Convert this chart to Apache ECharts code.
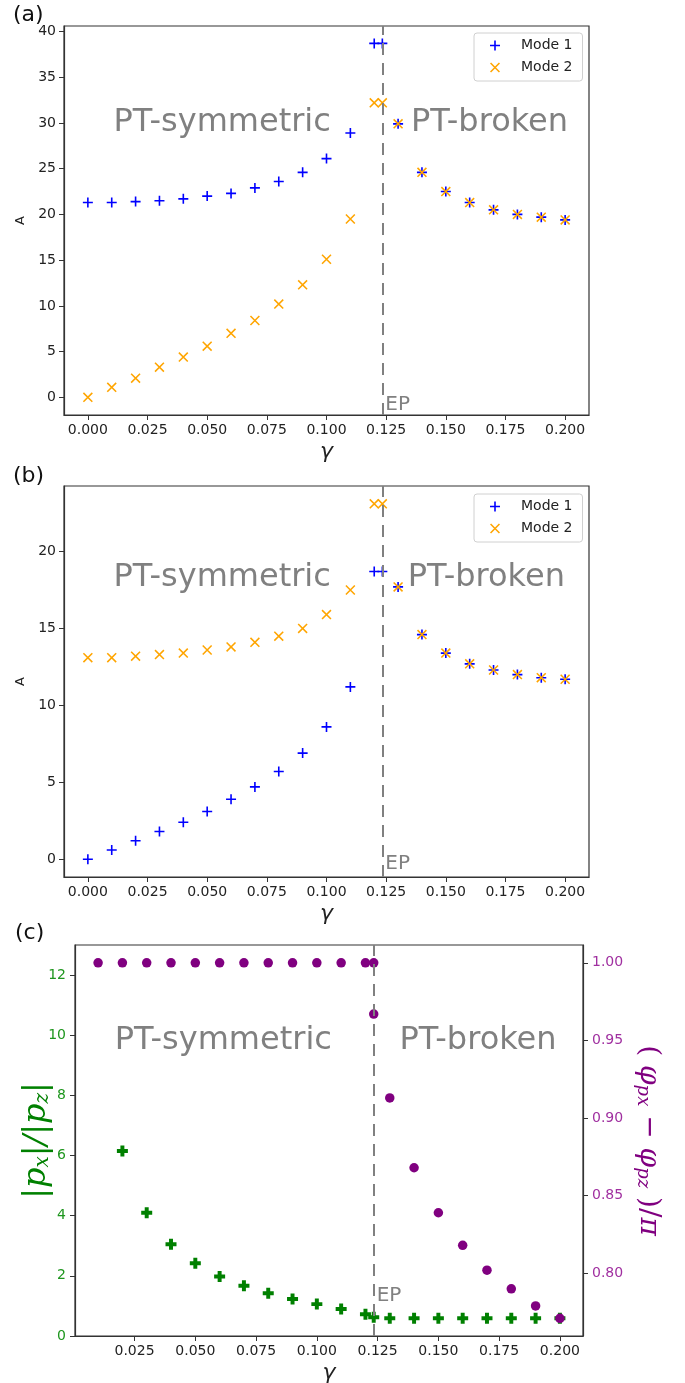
<!DOCTYPE html>
<html>
<head>
<meta charset="utf-8">
<title>PT symmetry</title>
<script src="https://cdn.jsdelivr.net/npm/echarts@6/dist/echarts.min.js"></script>
<style>
  html, body { margin: 0; padding: 0; background: #fff; }
  #chart { width: 685px; height: 1383px; }
</style>
</head>
<body>
<div id="chart"></div>
<script>
// exceptional point
const EP = 0.1234;

// panels (a) and (b): gamma samples
const gammaAB = [0, 0.01, 0.02, 0.03, 0.04, 0.05, 0.06, 0.07, 0.08, 0.09, 0.1, 0.11, 0.12, EP,
  0.13, 0.14, 0.15, 0.16, 0.17, 0.18, 0.19, 0.2];

const aMode1 = [21.3, 21.3, 21.4, 21.5, 21.7, 22.0, 22.3, 22.9, 23.6, 24.6, 26.1, 28.9, 38.7, 38.7,
  29.9, 24.6, 22.5, 21.3, 20.5, 20.0, 19.7, 19.4];
const aMode2 = [0, 1.1, 2.1, 3.3, 4.4, 5.6, 7.0, 8.4, 10.2, 12.3, 15.1, 19.5, 32.2, 32.2,
  29.9, 24.6, 22.5, 21.3, 20.5, 20.0, 19.7, 19.4];

const bMode1 = [0, 0.6, 1.2, 1.8, 2.4, 3.1, 3.9, 4.7, 5.7, 6.9, 8.6, 11.2, 18.7, 18.7,
  17.7, 14.6, 13.4, 12.7, 12.3, 12.0, 11.8, 11.7];
const bMode2 = [13.1, 13.1, 13.2, 13.3, 13.4, 13.6, 13.8, 14.1, 14.5, 15.0, 15.9, 17.5, 23.1, 23.1,
  17.7, 14.6, 13.4, 12.7, 12.3, 12.0, 11.8, 11.7];

// panel (c)
const gammaRatio = [0.02, 0.03, 0.04, 0.05, 0.06, 0.07, 0.08, 0.09, 0.1, 0.11, 0.12, EP,
  0.13, 0.14, 0.15, 0.16, 0.17, 0.18, 0.19, 0.2];
const ratioPxPz = [6.15, 4.1, 3.05, 2.42, 1.98, 1.67, 1.42, 1.23, 1.06, 0.9, 0.72, 0.62,
  0.59, 0.59, 0.59, 0.59, 0.59, 0.59, 0.59, 0.59];

const gammaPhase = [0.01, 0.02, 0.03, 0.04, 0.05, 0.06, 0.07, 0.08, 0.09, 0.1, 0.11, 0.12, EP, EP,
  0.13, 0.14, 0.15, 0.16, 0.17, 0.18, 0.19, 0.2];
const phaseDiff = [1, 1, 1, 1, 1, 1, 1, 1, 1, 1, 1, 1, 1, 0.967,
  0.913, 0.868, 0.839, 0.818, 0.802, 0.790, 0.779, 0.771];

// tick labels
const xTicksAB = [0, 0.025, 0.05, 0.075, 0.1, 0.125, 0.15, 0.175, 0.2];
const xTicksC = [0.025, 0.05, 0.075, 0.1, 0.125, 0.15, 0.175, 0.2];
const yTicksA = [0, 5, 10, 15, 20, 25, 30, 35, 40];
const yTicksB = [0, 5, 10, 15, 20];
const yTicksCLeft = [0, 2, 4, 6, 8, 10, 12];
const yTicksCRight = [0.8, 0.85, 0.9, 0.95, 1.0];

const PLUS = 'path://M0,4.2 H10 V5.8 H0 Z M4.2,0 H5.8 V10 H4.2 Z';
const CROSS = 'path://M0,1.1 L1.1,0 L10,8.9 L8.9,10 Z M8.9,0 L10,1.1 L1.1,10 L0,8.9 Z';
const FATPLUS = 'path://M3.2,0 H6.8 V3.2 H10 V6.8 H6.8 V10 H3.2 V6.8 H0 V3.2 H3.2 Z';

const FONT = 'DejaVu Sans';
const GRAY = '#808080';

const zip = (xs, ys) => xs.map((x, i) => [x, ys[i]]);

function xAxis(grid, min, max, ticks) {
  return {
    type: 'value', gridIndex: grid, min: min, max: max,
    splitLine: { show: false },
    axisLine: { show: true, onZero: false, lineStyle: { color: '#333', width: 1.2 } },
    axisTick: { show: true, length: 5, customValues: ticks, lineStyle: { color: '#333' } },
    axisLabel: { customValues: ticks, formatter: v => v.toFixed(3), fontSize: 14,
      color: '#222', margin: 8, fontFamily: FONT },
    name: 'γ', nameLocation: 'middle', nameGap: 26,
    nameTextStyle: { fontSize: 22, fontStyle: 'italic', fontFamily: FONT, color: '#222' }
  };
}

function yAxis(grid, min, max, ticks, extra) {
  return Object.assign({
    type: 'value', gridIndex: grid, min: min, max: max,
    splitLine: { show: false },
    axisLine: { show: true, onZero: false, lineStyle: { color: '#333', width: 1.2 } },
    axisTick: { show: true, length: 5, customValues: ticks, lineStyle: { color: '#333' } },
    axisLabel: { customValues: ticks, fontSize: 14, color: '#222', margin: 8, fontFamily: FONT },
    name: 'A', nameLocation: 'middle', nameGap: 36, nameRotate: 90,
    nameTextStyle: { fontSize: 13, fontFamily: FONT, color: '#222' }
  }, extra || {});
}

function note(coord, text, size, pos) {
  return {
    coord: coord, name: text, symbol: 'circle', symbolSize: 0,
    itemStyle: { color: 'rgba(0,0,0,0)' },
    label: { show: true, formatter: text, position: pos || 'inside', distance: 3,
      fontSize: size, color: GRAY, fontFamily: FONT }
  };
}

const epLine = {
  silent: true, symbol: ['none', 'none'], precision: 4,
  label: { show: false },
  lineStyle: { color: GRAY, type: [12, 8], width: 2 },
  data: [{ xAxis: EP }]
};

function legend(top) {
  return {
    left: 474, top: top, orient: 'vertical', selectedMode: false,
    padding: [4, 10, 5, 16], itemGap: 5, itemWidth: 10, itemHeight: 10,
    borderColor: '#d0d0d0', borderWidth: 1, borderRadius: 3,
    textStyle: { fontSize: 14, color: '#222', fontFamily: FONT, padding: [0, 0, 0, 16], lineHeight: 17 },
    data: [{ name: 'Mode 1', icon: PLUS }, { name: 'Mode 2', icon: CROSS }]
  };
}

const gridBase = { show: true, borderColor: '#333', borderWidth: 1.2, outerBoundsMode: 'none' };

const option = {
  animation: false,
  backgroundColor: '#fff',
  textStyle: { fontFamily: FONT },
  graphic: [
    { type: 'text', left: 13, top: 4, style: { text: '(a)', fontSize: 22, fill: '#111', fontFamily: FONT } },
    { type: 'text', left: 13, top: 465, style: { text: '(b)', fontSize: 22, fill: '#111', fontFamily: FONT } },
    { type: 'text', left: 15, top: 922, style: { text: '(c)', fontSize: 22, fill: '#111', fontFamily: FONT } }
  ],
  legend: [legend(33), legend(494)],
  grid: [
    Object.assign({ left: 64, top: 26, width: 525, height: 389 }, gridBase),
    Object.assign({ left: 64, top: 486, width: 525, height: 391 }, gridBase),
    Object.assign({ left: 75, top: 945, width: 508, height: 391 }, gridBase)
  ],
  xAxis: [
    xAxis(0, -0.01, 0.21, xTicksAB),
    xAxis(1, -0.01, 0.21, xTicksAB),
    xAxis(2, 0.0005, 0.2095, xTicksC)
  ],
  yAxis: [
    yAxis(0, -1.93, 40.6, yTicksA),
    yAxis(1, -1.155, 24.26, yTicksB),
    yAxis(2, 0, 13, yTicksCLeft, {
      axisLabel: { customValues: yTicksCLeft, fontSize: 14, color: '#1e961e', margin: 9, fontFamily: FONT },
      name: '|{t|p}{s|x}|/|{t|p}{s|z}|', nameGap: 22, nameMoveOverlap: false,
      nameTextStyle: { fontSize: 32, fontFamily: 'DejaVu Serif', fontStyle: 'italic', color: '#008000',
        rich: {
          t: { fontSize: 32, fontFamily: 'DejaVu Serif', fontStyle: 'italic', color: '#008000' },
          s: { fontSize: 20, fontFamily: 'DejaVu Serif', fontStyle: 'italic', color: '#008000',
            verticalAlign: 'bottom', lineHeight: 20 }
        } }
    }),
    yAxis(2, 0.7596, 1.0115, yTicksCRight, {
      position: 'right',
      axisLabel: { customValues: yTicksCRight, formatter: v => v.toFixed(2), fontSize: 14,
        color: '#a030a0', margin: 9, fontFamily: FONT },
      name: '( {t|φ}{s|px} − {t|φ}{s|pz} )/{t|π}', nameGap: 50, nameRotate: -90,
      nameTextStyle: { fontSize: 28, fontFamily: 'DejaVu Serif', color: '#800080',
        rich: {
          t: { fontSize: 28, fontFamily: 'DejaVu Serif', fontStyle: 'italic', color: '#800080' },
          s: { fontSize: 18, fontFamily: 'DejaVu Serif', fontStyle: 'italic', color: '#800080',
            verticalAlign: 'bottom', lineHeight: 18 }
        } }
    })
  ],
  series: [
    {
      name: 'Mode 1', type: 'scatter', xAxisIndex: 0, yAxisIndex: 0,
      symbol: PLUS, symbolSize: 10, itemStyle: { color: '#0000ff', opacity: 1 },
      data: zip(gammaAB, aMode1),
      markLine: epLine,
      markPoint: { silent: true, data: [
        note([0.0563, 30.0], 'PT-symmetric', 32),
        note([0.1683, 30.0], 'PT-broken', 32),
        note([EP, -0.8], 'EP', 20, 'right')
      ] }
    },
    {
      name: 'Mode 2', type: 'scatter', xAxisIndex: 0, yAxisIndex: 0,
      symbol: CROSS, symbolSize: 10, itemStyle: { color: '#ffa500', opacity: 1 },
      data: zip(gammaAB, aMode2)
    },
    {
      name: 'Mode 1', type: 'scatter', xAxisIndex: 1, yAxisIndex: 1,
      symbol: PLUS, symbolSize: 10, itemStyle: { color: '#0000ff', opacity: 1 },
      data: zip(gammaAB, bMode1),
      markLine: epLine,
      markPoint: { silent: true, data: [
        note([0.0563, 18.3], 'PT-symmetric', 32),
        note([0.167, 18.3], 'PT-broken', 32),
        note([EP, -0.3], 'EP', 20, 'right')
      ] }
    },
    {
      name: 'Mode 2', type: 'scatter', xAxisIndex: 1, yAxisIndex: 1,
      symbol: CROSS, symbolSize: 10, itemStyle: { color: '#ffa500', opacity: 1 },
      data: zip(gammaAB, bMode2)
    },
    {
      name: '|px|/|pz|', type: 'scatter', xAxisIndex: 2, yAxisIndex: 2,
      symbol: FATPLUS, symbolSize: 11, itemStyle: { color: '#008000', opacity: 1 },
      data: zip(gammaRatio, ratioPxPz),
      markLine: epLine,
      markPoint: { silent: true, data: [
        note([0.0615, 9.83], 'PT-symmetric', 32),
        note([0.1663, 9.83], 'PT-broken', 32),
        note([EP, 1.35], 'EP', 20, 'right')
      ] }
    },
    {
      name: 'phase', type: 'scatter', xAxisIndex: 2, yAxisIndex: 3,
      symbol: 'circle', symbolSize: 9.5, itemStyle: { color: '#800080', opacity: 1 },
      data: zip(gammaPhase, phaseDiff)
    }
  ]
};

const chart = echarts.init(document.getElementById('chart'), null, { renderer: 'canvas' });
chart.setOption(option);
</script>
</body>
</html>
